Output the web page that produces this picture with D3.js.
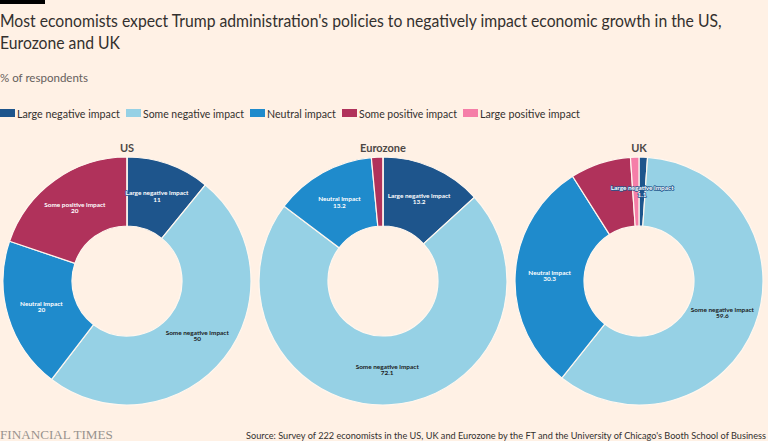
<!DOCTYPE html>
<html>
<head>
<meta charset="utf-8">
<script src="https://cdn.jsdelivr.net/npm/d3@7"></script>
<style>
  html, body { margin: 0; padding: 0; background: #fff1e5; }
  svg { display: block; }
</style>
</head>
<body>
<svg id="chart" width="768" height="441"></svg>
<script>
// ---- data ----
const categories = ["Large negative impact", "Some negative impact", "Neutral impact", "Some positive impact", "Large positive impact"];
const regions = ["US", "Eurozone", "UK"];
const usValues = [11, 50, 20, 20, 0];
const eurozoneValues = [13.2, 72.1, 13.2, 1.5, 0];
const ukValues = [1.1, 59.6, 30.3, 7.9, 1.1];
const colors = ["#1e558c", "#96d1e5", "#1f8bcc", "#b0325b", "#f57ea8"];
const labelColors = ["#ffffff", "#1a1a1a", "#ffffff", "#ffffff", "#1a1a1a"];
const titleLines = ["Most economists expect Trump administration's policies to negatively impact economic growth in the US,", "Eurozone and UK"];
const subtitle = "% of respondents";
const source = "Source: Survey of 222 economists in the US, UK and Eurozone by the FT and the University of Chicago's Booth School of Business";

const series = [usValues, eurozoneValues, ukValues];

const W = 768, H = 441;
const FONT = "Lato, 'Noto Sans', sans-serif";
const svg = d3.select("#chart");
svg.append("rect").attr("width", W).attr("height", H).attr("fill", "#fff1e5");

// place a text at (x,y) horizontally scaled so its width equals targetW
function fitText(x, y, str, size, targetW, opts = {}) {
  const g = svg.append("g");
  const t = g.append("text")
    .style("font-family", opts.family || FONT)
    .style("font-size", size + "px")
    .style("font-weight", opts.weight || 400)
    .attr("fill", opts.fill || "#33302e")
    .attr("text-anchor", opts.anchor || "start")
    .text(str);
  const w = t.node().getComputedTextLength();
  const s = targetW / w;
  g.attr("transform", `translate(${x},${y}) scale(${s},1)`);
  return t;
}

// top bar
svg.append("rect").attr("x", 0).attr("y", 0).attr("width", 45).attr("height", 4).attr("fill", "#000");

// title
const titleWidths = [722, 120];
titleLines.forEach((t, i) => fitText(0, 27 + i * 22, t, 17.5, titleWidths[i]));

fitText(0, 82, subtitle, 11.5, 88, { fill: "#66605c" });

// legend
const legendTextW = [103, 101, 69, 98, 100];
let lx = 0;
categories.forEach((c, i) => {
  svg.append("rect").attr("x", lx).attr("y", 109).attr("width", 15).attr("height", 8).attr("fill", colors[i]);
  fitText(lx + 17, 117.5, c, 11, legendTextW[i]);
  lx += 17 + legendTextW[i] + 6;
});

// donuts
const x = d3.scalePoint().domain(regions).range([127, 639]);
const cy = 281;
const outerR = 124, innerR = 55;
const pie = d3.pie().sort(null).value(d => d.value);
const arc = d3.arc().innerRadius(innerR).outerRadius(outerR);

// label horizontal scale so that "Large negative impact" is ~63px wide
const LFONT = "Lato, 'Noto Sans', sans-serif";
const LSIZE = 6.3;
const probe = svg.append("text").style("font-family", LFONT).style("font-size", LSIZE + "px").style("font-weight", 700).text(categories[0]);
const labelScale = 63 / probe.node().getComputedTextLength();
probe.remove();

regions.forEach((r, ri) => {
  const data = categories.map((c, i) => ({ cat: c, i, value: series[ri][i] }));
  const g = svg.append("g").attr("transform", `translate(${x(r)},${cy})`);
  const arcs = pie(data);
  g.selectAll("path").data(arcs).join("path")
    .attr("d", arc)
    .attr("fill", d => colors[d.data.i])
    .attr("stroke", "#fff7ef")
    .attr("stroke-width", 1.2);

  svg.append("text")
    .attr("x", x(r)).attr("y", 152)
    .attr("text-anchor", "middle")
    .style("font-family", FONT)
    .style("font-size", "11px").style("font-weight", 700)
    .attr("fill", "#4d4845")
    .text(r);

  const labelled = arcs.filter(d => d.data.value >= 10 || (d.data.i === 0 && d.data.value > 0));
  labelled.forEach(d => {
    const [cx, cyy] = arc.centroid(d);
    const lg = g.append("g").attr("transform", `translate(${cx},${cyy}) scale(${labelScale},1)`);
    const lt = lg.append("text")
      .attr("text-anchor", "middle")
      .style("font-family", LFONT)
      .style("font-size", LSIZE + "px").style("font-weight", 700)
      .attr("fill", labelColors[d.data.i])
      .attr("stroke", colors[d.data.i]).attr("stroke-width", 1.5)
      .attr("paint-order", "stroke")
      .attr("stroke-linejoin", "round");
    lt.append("tspan").attr("x", 0).attr("y", -1.5).text(d.data.cat);
    lt.append("tspan").attr("x", 0).attr("y", 5).text(d3.format(".3~")(d.data.value));
  });
});

// footer
fitText(0, 439, "FINANCIAL TIMES", 12.5, 113, { family: "'Liberation Serif', 'DejaVu Serif', serif", fill: "#99938e" });
fitText(766, 439, source, 10, 521, { anchor: "end" });
</script>
</body>
</html>
